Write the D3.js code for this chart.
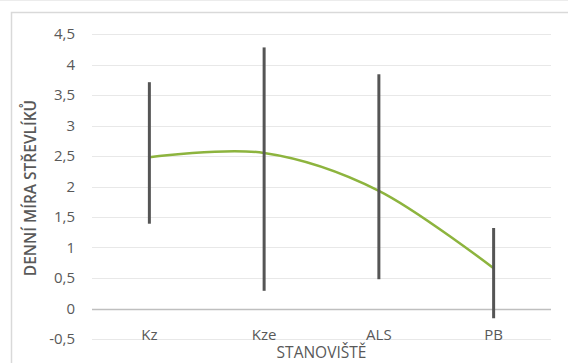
<!DOCTYPE html>
<html><head><meta charset="utf-8">
<script src="https://cdn.jsdelivr.net/npm/d3@7"></script>
<style>body{margin:0;background:#fff;}svg{display:block;font-family:"Open Sans",sans-serif;}</style>
</head><body><svg id="c" width="568" height="363"></svg>
<script>
const categories = ["Kz","Kze","ALS","PB"];
const means = [2.48, 2.55, 1.93, 0.66];
const errLow = [1.39, 0.29, 0.48, -0.16];
const errHigh = [3.71, 4.28, 3.84, 1.32];
const yTicks = [-0.5,0,0.5,1,1.5,2,2.5,3,3.5,4,4.5];

const svg = d3.select("#c");
const L=92, R=551, T=34, B=339;
svg.append("line").attr("x1",0).attr("x2",568).attr("y1",0.5).attr("y2",0.5).attr("stroke","#ececec");
svg.append("path").attr("d","M11.5,363V12.5H568").attr("fill","none").attr("stroke","#d9d9d9").attr("stroke-width",1.5);

const x = d3.scaleBand().domain(categories).range([L,R]);
const y = d3.scaleLinear().domain([-0.5,4.5]).range([B,T]);
const fmt = v => String(v).replace(".",",");

svg.append("g").selectAll("line").data(yTicks).join("line")
  .attr("x1",L).attr("x2",R).attr("y1",d=>Math.round(y(d))+0.5).attr("y2",d=>Math.round(y(d))+0.5)
  .attr("stroke",d=>d===0?"#bfbfbf":"#e8e8e8").attr("stroke-width",d=>d===0?1.5:1);

const yAxis = svg.append("g").attr("transform",`translate(${L},0)`)
  .call(d3.axisLeft(y).tickValues(yTicks).tickFormat(fmt).tickSize(0).tickPadding(17));
yAxis.select(".domain").remove();
yAxis.selectAll("text").attr("fill","#595959").style("font-size","15px").style("font-family","Open Sans");

svg.append("g").selectAll("text").data(categories).join("text")
  .attr("x",d=>x(d)+x.bandwidth()/2).attr("y",340).attr("text-anchor","middle")
  .attr("fill","#595959").style("font-size","15px").text(d=>d);

svg.append("text").attr("x",(L+R)/2).attr("y",358).attr("text-anchor","middle")
  .attr("fill","#595959").style("font-size","15.5px").text("STANOVIŠTĚ");
svg.append("text").attr("transform",`translate(36,188) rotate(-90)`).attr("text-anchor","middle")
  .attr("fill","#595959").style("font-size","15.5px").style("font-weight","600").text("DENNÍ MÍRA STŘEVLÍKŮ");

const cx = d => x(d)+x.bandwidth()/2;
const line = d3.line().x((d,i)=>cx(categories[i])).y(d=>y(d)).curve(d3.curveCardinal.tension(0));
svg.append("path").datum(means).attr("d",line).attr("fill","none").attr("stroke","#8db43e").attr("stroke-width",2.5);

svg.append("g").selectAll("line").data(categories).join("line")
  .attr("x1",cx).attr("x2",cx).attr("y1",(d,i)=>y(errLow[i])).attr("y2",(d,i)=>y(errHigh[i]))
  .attr("stroke","#555").attr("stroke-width",3);
</script></body></html>
